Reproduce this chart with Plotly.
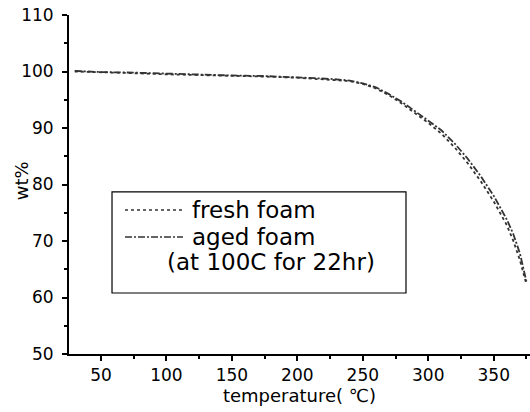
import plotly.graph_objects as go

temperature = [30, 50, 75, 100, 125, 150, 175, 200, 225, 240, 250, 260, 270, 280,
               290, 300, 310, 320, 330, 340, 350, 360, 365, 370, 375]
fresh_foam = [100.0, 99.9, 99.7, 99.5, 99.4, 99.3, 99.1, 98.9, 98.6, 98.3, 97.8, 97.0,
              95.8, 94.3, 92.6, 90.9, 89.0, 86.6, 83.8, 80.6, 77.0, 72.8, 70.0, 66.6, 62.3]
aged_foam = [100.1, 99.9, 99.8, 99.6, 99.5, 99.3, 99.2, 99.0, 98.7, 98.4, 97.9, 97.2,
             96.0, 94.6, 93.0, 91.3, 89.6, 87.3, 84.6, 81.5, 78.0, 73.8, 71.2, 67.8, 62.8]

x_ticks = [50, 100, 150, 200, 250, 300, 350]
y_ticks = [50, 60, 70, 80, 90, 100, 110]

legend_labels = ["fresh foam", "aged foam", "(at 100C for 22hr)"]

FONT = "DejaVu Sans"
LINE_COLOR = "#333333"
DASHDOT = "7px,2px,2px,2px"

fig = go.Figure()
fig.add_trace(go.Scatter(x=temperature, y=fresh_foam, mode="lines",
                         line=dict(color=LINE_COLOR, width=1.8, dash="dot"),
                         name=legend_labels[0], showlegend=False))
fig.add_trace(go.Scatter(x=temperature, y=aged_foam, mode="lines",
                         line=dict(color=LINE_COLOR, width=1.8, dash=DASHDOT),
                         name=legend_labels[1], showlegend=False))

axis_common = dict(showgrid=False, zeroline=False, showline=True, linecolor="black",
                   linewidth=2, ticks="outside", tickcolor="black", tickwidth=1.5,
                   ticklen=5, tickfont=dict(family=FONT, size=17, color="black"),
                   mirror=False)

fig.update_xaxes(range=[25.6, 377.7], tickvals=x_ticks,
                 minor=dict(ticks="outside", dtick=25, tick0=25, ticklen=3,
                            tickwidth=1.5, tickcolor="black"),
                 title=dict(text="temperature( ℃)", font=dict(family=FONT, size=18, color="black"),
                            standoff=3),
                 **axis_common)
fig.update_yaxes(range=[50, 110], tickvals=y_ticks, ticklabelstandoff=5,
                 minor=dict(ticks="outside", dtick=5, tick0=55, ticklen=3,
                            tickwidth=1.5, tickcolor="black"),
                 **axis_common)

# legend box (drawn manually to reproduce the three-line layout)
shapes = [
    dict(type="rect", xref="paper", yref="paper", x0=0.0933, x1=0.731, y0=0.180, y1=0.478,
         line=dict(color="black", width=1.2), fillcolor="white", layer="above"),
    dict(type="line", xref="paper", yref="paper", x0=0.1215, x1=0.2473, y0=0.425, y1=0.425,
         line=dict(color=LINE_COLOR, width=1.5, dash="dot")),
    dict(type="line", xref="paper", yref="paper", x0=0.1215, x1=0.2473, y0=0.345, y1=0.345,
         line=dict(color=LINE_COLOR, width=1.5, dash=DASHDOT)),
]
annotations = [
    dict(xref="paper", yref="paper", x=0.263, y=0.425, text=legend_labels[0],
         showarrow=False, xanchor="left", yanchor="middle",
         font=dict(family=FONT, size=23, color="black")),
    dict(xref="paper", yref="paper", x=0.263, y=0.345, text=legend_labels[1],
         showarrow=False, xanchor="left", yanchor="middle",
         font=dict(family=FONT, size=23, color="black")),
    dict(xref="paper", yref="paper", x=0.208, y=0.271, text=legend_labels[2],
         showarrow=False, xanchor="left", yanchor="middle",
         font=dict(family=FONT, size=23, color="black")),
    # y-axis title placed close to the tick labels, as in the reference
    dict(xref="paper", yref="paper", x=-0.104, y=0.51, text="wt%", textangle=-90,
         showarrow=False, xanchor="center", yanchor="middle",
         font=dict(family=FONT, size=18, color="black")),
]

fig.update_layout(width=530, height=412, margin=dict(l=69, r=0, t=15, b=58),
                  paper_bgcolor="white", plot_bgcolor="white",
                  shapes=shapes, annotations=annotations, showlegend=False)

fig.write_html("out.html", config={"displayModeBar": False},
               post_script="document.body.style.margin='0';")
